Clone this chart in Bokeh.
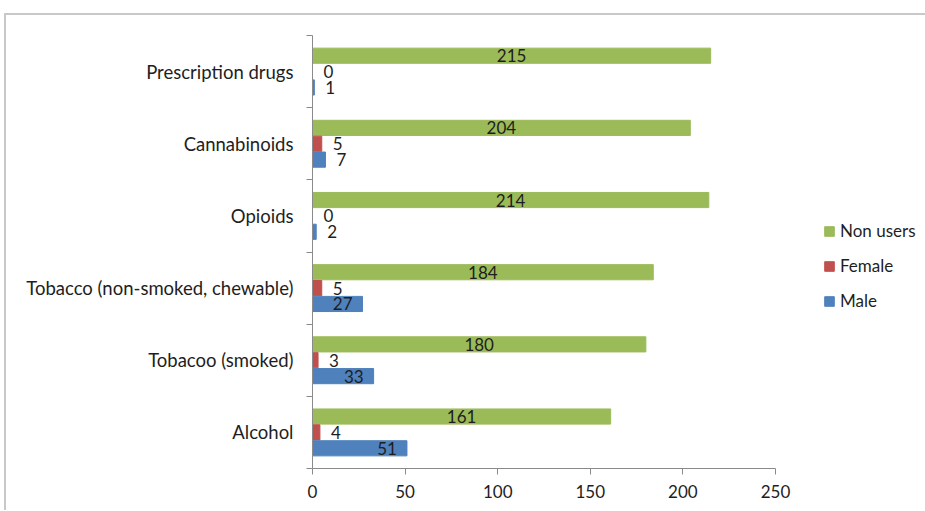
from bokeh.plotting import figure
from bokeh.models import Range1d, FixedTicker, Legend, LegendItem, ColumnDataSource
from bokeh.embed import file_html
from bokeh.resources import INLINE
from bokeh.core.properties import value

# ---- data (bottom to top) ----
categories = ["Alcohol", "Tobacoo (smoked)", "Tobacco (non-smoked, chewable)",
              "Opioids", "Cannabinoids", "Prescription drugs"]
male = [51, 33, 27, 2, 7, 1]
female = [4, 3, 5, 0, 5, 0]
non_users = [161, 180, 184, 214, 204, 215]
x_ticks = [0, 50, 100, 150, 200, 250]

FONT = "Lato"
TXT = "#1e1e1e"
AX = "#8a8a8a"
GREEN, RED, BLUE = "#9BBB59", "#C0504D", "#4F81BD"
OFF, H = 0.22, 0.21

p = figure(frame_width=463, frame_height=433,
           min_border_left=306, min_border_top=20, min_border_right=150, min_border_bottom=42,
           x_range=Range1d(0, 250), y_range=Range1d(0, len(categories)),
           output_backend="svg", toolbar_location=None, tools="",
           margin=(13, 0, 0, 4),
           styles={"border-left": "2px solid #c8c8c8", "border-top": "2px solid #c8c8c8"})
p.outline_line_color = None
p.xgrid.visible = False
p.ygrid.visible = False
p.background_fill_color = "white"
p.border_fill_color = "white"

centers = [i + 0.5 for i in range(len(categories))]
src = ColumnDataSource(dict(
    yg=[c + OFF for c in centers],
    yr=centers,
    yb=[c - OFF for c in centers],
    male=male, female=female, non=non_users,
))

g = p.hbar(y="yg", right="non", left=0, height=H, color=GREEN, source=src)
r = p.hbar(y="yr", right="female", left=0, height=H, color=RED, source=src)
b = p.hbar(y="yb", right="male", left=0, height=H, color=BLUE, source=src)

# value labels
def add_text(xs, ys, texts, align, xoff):
    if not xs:
        return
    s = ColumnDataSource(dict(x=xs, y=ys, t=texts))
    p.text(x="x", y="y", text="t", source=s, text_align=align, text_baseline="middle",
           x_offset=xoff, text_font=value(FONT), text_font_size="17px", text_color=TXT)

add_text([v / 2 for v in non_users], [c + OFF for c in centers], [str(v) for v in non_users], "center", 0)

in_x, in_y, in_t, out_x, out_y, out_t = [], [], [], [], [], []
for vals, off in ((female, 0.0), (male, -OFF)):
    for v, c in zip(vals, centers):
        if v >= 20:
            in_x.append(v); in_y.append(c + off); in_t.append(str(v))
        else:
            out_x.append(v); out_y.append(c + off); out_t.append(str(v))
add_text(in_x, in_y, in_t, "right", -10)
add_text(out_x, out_y, out_t, "left", 11)

# axes
xa = p.xaxis[0]
xa.ticker = FixedTicker(ticks=x_ticks)
xa.axis_line_color = AX
xa.major_tick_line_color = AX
xa.major_tick_in = 0
xa.major_tick_out = 6
xa.minor_tick_line_color = None
xa.major_label_text_font = FONT
xa.major_label_text_font_size = "17px"
xa.major_label_text_color = TXT
xa.major_label_standoff = 10

ya = p.yaxis[0]
ya.ticker = FixedTicker(ticks=centers, minor_ticks=list(range(len(categories) + 1)))
ya.major_label_overrides = {c: name for c, name in zip(centers, categories)}
ya.axis_line_color = AX
ya.major_tick_line_color = None
ya.major_tick_in = 0
ya.major_tick_out = 0
ya.minor_tick_line_color = AX
ya.minor_tick_in = 0
ya.minor_tick_out = 6
ya.major_label_text_font = FONT
ya.major_label_text_font_size = "18.5px"
ya.major_label_text_color = TXT
ya.major_label_standoff = 13

legend = Legend(items=[LegendItem(label="Non users", renderers=[g]),
                       LegendItem(label="Female", renderers=[r]),
                       LegendItem(label="Male", renderers=[b])],
                location=(48, 157))
legend.border_line_color = None
legend.background_fill_alpha = 0
legend.padding = 0
legend.margin = 0
legend.glyph_width = 12
legend.glyph_height = 12
legend.label_standoff = 5
legend.spacing = 14
legend.label_text_font = FONT
legend.label_text_font_size = "17px"
legend.label_text_color = TXT
p.add_layout(legend, "right")

open("out.html", "w").write(file_html(p, INLINE))
